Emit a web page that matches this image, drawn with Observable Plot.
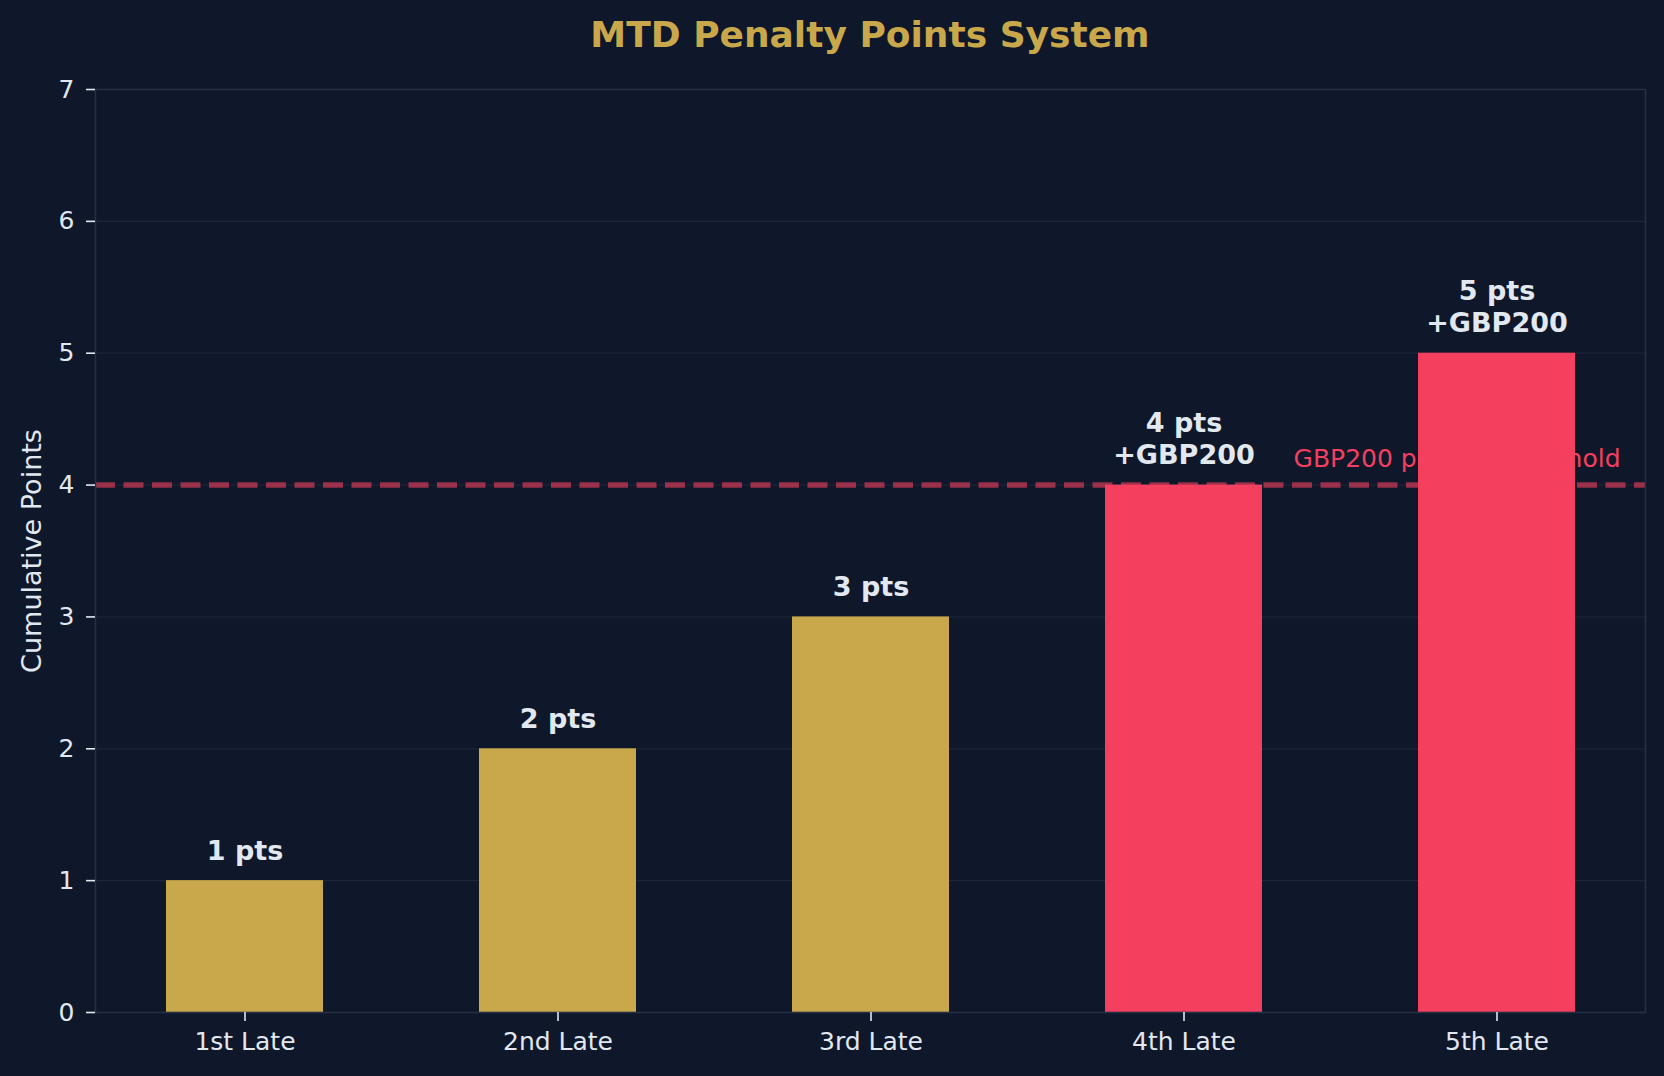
<!DOCTYPE html>
<html>
<head>
<meta charset="utf-8">
<script src="https://cdn.jsdelivr.net/npm/d3@7"></script>
<script src="https://cdn.jsdelivr.net/npm/@observablehq/plot@0.6"></script>
<style>
  html, body { margin: 0; padding: 0; background: #0f172a; }
  #wrap { width: 1664px; height: 1076px; background: #0f172a; overflow: hidden; }
  #title {
    box-sizing: border-box; width: 1664px; height: 70px; line-height: 70px;
    padding-left: 95px; padding-right: 19px; text-align: center;
    font-family: "DejaVu Sans", sans-serif; font-weight: bold; font-size: 36px; color: #c9a84c;
  }
</style>
</head>
<body>
<div id="wrap">
  <div id="title">MTD Penalty Points System</div>
  <div id="chart"></div>
</div>
<script>
const categories = ["1st Late", "2nd Late", "3rd Late", "4th Late", "5th Late"];
const points = [1, 2, 3, 4, 5];
const fines = [0, 0, 0, 200, 200];
const yTicks = [0, 1, 2, 3, 4, 5, 6, 7];
const threshold = 4;
const thresholdLabel = "GBP200 penalty threshold";
const yLabel = "Cumulative Points";

const gold = "#c9a84c";
const red = "#f43f5e";
const textColor = "#e2e8f0";

const data = categories.map((c, i) => ({
  cat: c,
  pts: points[i],
  fine: fines[i],
  label: `${points[i]} pts` + (fines[i] > 0 ? `\n+GBP${fines[i]}` : "")
}));

const chart = Plot.plot({
  width: 1664,
  height: 1006,
  marginLeft: 95,
  marginRight: 19,
  marginTop: 19,
  marginBottom: 64,
  style: { background: "transparent", color: textColor, fontFamily: "DejaVu Sans, sans-serif", fontSize: "25px" },
  x: { domain: categories, paddingInner: 0.5, paddingOuter: 0.225, align: 0.5, label: null },
  y: { domain: [0, 7], label: null },
  marks: [
    Plot.gridY(yTicks, { stroke: "#1c2638", strokeOpacity: 1, strokeWidth: 1.2 }),
    Plot.ruleY([threshold], { stroke: red, strokeOpacity: 0.6, strokeWidth: 5.5, strokeDasharray: "20,8.5" }),
    Plot.text([thresholdLabel], { y: () => threshold, text: d => d, frameAnchor: "right", textAnchor: "end", lineAnchor: "bottom", dx: -25, dy: -18, fill: red, fontSize: 25 }),
    Plot.barY(data, { x: "cat", y: "pts", fill: d => d.fine > 0 ? red : gold }),
    Plot.text(data, { x: "cat", y: "pts", text: "label", lineAnchor: "bottom", lineHeight: 1.2, dy: -21, fill: textColor, fontSize: 27, fontWeight: "bold" }),
    Plot.frame({ stroke: "#253045", strokeWidth: 1.6 }),
    Plot.axisY(yTicks, { tickSize: 9, tickPadding: 12, fontSize: 25, tickFormat: d3.format("d"), stroke: textColor, strokeWidth: 1.6, fill: textColor, label: null }),
    Plot.axisX({ tickSize: 9, tickPadding: 11, fontSize: 25, stroke: textColor, strokeWidth: 1.6, fill: textColor, label: null }),
    Plot.text([yLabel], { text: d => d, frameAnchor: "left", dx: -63, rotate: -90, textAnchor: "middle", fill: textColor, fontSize: 27 })
  ]
});
document.getElementById("chart").appendChild(chart);
</script>
</body>
</html>
